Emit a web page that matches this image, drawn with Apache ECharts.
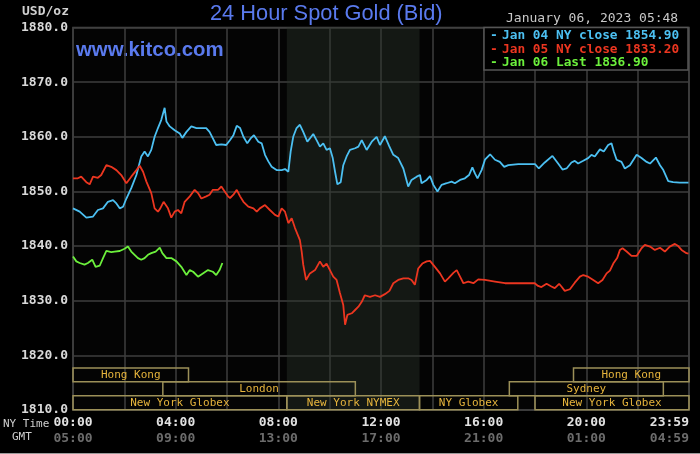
<!DOCTYPE html>
<html style="height: 100%">

<head>
    <meta charset="utf-8">
</head>

<body style="height: 100%; margin: 0; background: #000">
    <div id="container" style="height: 100%"></div>
    <script type="text/javascript" src="https://cdn.jsdelivr.net/npm/echarts@6/dist/echarts.min.js"></script>
    <script type="text/javascript">
        // hours are NY time, prices in USD/oz
        var jan04Hours = [0.00, 0.26, 0.52, 0.78, 0.97, 1.17, 1.36, 1.56, 1.69, 1.82, 1.95, 2.08, 2.27, 2.47, 2.66, 2.79,
            2.92, 3.05, 3.18, 3.31, 3.44, 3.57, 3.64, 3.77, 3.96, 4.16, 4.26, 4.42, 4.61, 4.81, 5.00, 5.19, 5.32, 5.45,
            5.58, 5.78, 5.97, 6.12, 6.25, 6.38, 6.51, 6.64, 6.79, 6.92, 7.05, 7.22, 7.35, 7.48, 7.61, 7.74, 7.93, 8.13,
            8.26, 8.39, 8.48, 8.58, 8.71, 8.84, 8.97, 9.13, 9.23, 9.36, 9.49, 9.62, 9.75, 9.88, 10.01, 10.12, 10.21,
            10.30, 10.43, 10.53, 10.66, 10.79, 10.99, 11.12, 11.25, 11.44, 11.64, 11.83, 11.96, 12.15, 12.32, 12.48,
            12.67, 12.87, 13.06, 13.19, 13.39, 13.52, 13.58, 13.78, 13.91, 14.04, 14.20, 14.36, 14.56, 14.75, 14.88,
            15.08, 15.27, 15.43, 15.56, 15.66, 15.76, 15.92, 16.05, 16.25, 16.44, 16.63, 16.80, 16.96, 17.35, 17.74,
            18.00, 18.15, 18.38, 18.68, 18.90, 19.07, 19.23, 19.42, 19.55, 19.68, 19.88, 20.07, 20.20, 20.33, 20.53,
            20.68, 20.85, 20.98, 21.07, 21.18, 21.37, 21.50, 21.70, 21.96, 22.15, 22.35, 22.48, 22.71, 22.87, 23.00,
            23.19, 23.38, 23.64, 23.98];
        var jan04Prices = [1846.9, 1846.3, 1845.2, 1845.4, 1846.6, 1846.9, 1848.1, 1848.4, 1847.8, 1846.9, 1847.2, 1848.7,
            1850.6, 1853.0, 1856.4, 1857.3, 1856.4, 1857.6, 1860.0, 1861.6, 1863.1, 1865.3, 1862.8, 1861.9, 1861.2,
            1860.6, 1859.8, 1860.9, 1861.9, 1861.6, 1861.6, 1861.6, 1860.9, 1859.7, 1858.5, 1858.6, 1858.5, 1859.4,
            1860.3, 1862.0, 1861.6, 1860.0, 1858.8, 1859.7, 1860.3, 1859.1, 1858.8, 1856.7, 1855.5, 1854.5, 1853.9,
            1853.9, 1854.1, 1853.6, 1857.3, 1860.0, 1861.6, 1862.2, 1860.9, 1859.1, 1859.7, 1860.5, 1859.4, 1858.2,
            1858.8, 1857.6, 1857.9, 1856.1, 1853.6, 1851.3, 1851.7, 1854.8, 1856.4, 1857.6, 1857.9, 1858.2, 1859.4,
            1857.6, 1859.1, 1860.0, 1858.5, 1860.1, 1858.3, 1856.7, 1856.1, 1854.2, 1850.9, 1852.1, 1852.7, 1853.0,
            1851.5, 1852.1, 1852.8, 1851.2, 1850.0, 1851.2, 1851.5, 1851.8, 1851.5, 1852.1, 1852.4, 1853.0, 1854.4,
            1853.3, 1852.4, 1853.9, 1855.8, 1856.8, 1855.8, 1855.4, 1854.5, 1854.8, 1855.0, 1855.0, 1855.0, 1854.2,
            1855.3, 1856.5, 1855.1, 1854.0, 1854.2, 1855.3, 1855.6, 1855.1, 1855.6, 1856.1, 1856.7, 1856.4, 1857.7,
            1857.3, 1858.5, 1858.8, 1857.3, 1855.8, 1855.4, 1854.2, 1854.8, 1856.7, 1856.1, 1855.4, 1855.1, 1856.2,
            1854.8, 1853.9, 1851.9, 1851.7, 1851.6, 1851.6];

        var jan05Hours = [0.00, 0.19, 0.32, 0.52, 0.65, 0.78, 0.97, 1.10, 1.30, 1.49, 1.69, 1.88, 2.08, 2.27, 2.47, 2.60,
            2.73, 2.86, 3.05, 3.18, 3.31, 3.40, 3.53, 3.70, 3.83, 3.96, 4.09, 4.22, 4.35, 4.55, 4.74, 4.87, 5.00, 5.19,
            5.32, 5.45, 5.65, 5.78, 5.91, 6.04, 6.12, 6.25, 6.38, 6.51, 6.64, 6.83, 7.03, 7.16, 7.28, 7.48, 7.67, 7.87,
            8.00, 8.13, 8.26, 8.39, 8.52, 8.65, 8.84, 8.91, 8.97, 9.08, 9.23, 9.43, 9.62, 9.75, 9.88, 10.01, 10.14,
            10.27, 10.40, 10.53, 10.60, 10.69, 10.86, 10.99, 11.12, 11.25, 11.37, 11.57, 11.77, 11.96, 12.15, 12.33,
            12.48, 12.67, 12.87, 13.06, 13.19, 13.32, 13.45, 13.61, 13.78, 13.91, 14.10, 14.30, 14.49, 14.62, 14.82,
            14.95, 15.08, 15.21, 15.40, 15.60, 15.79, 16.05, 16.44, 16.83, 17.35, 17.99, 18.12, 18.25, 18.45, 18.64,
            18.77, 18.94, 19.03, 19.16, 19.36, 19.55, 19.75, 19.88, 20.07, 20.27, 20.46, 20.63, 20.79, 20.92, 21.05,
            21.20, 21.31, 21.41, 21.57, 21.76, 21.96, 22.15, 22.28, 22.48, 22.67, 22.87, 23.06, 23.25, 23.45, 23.58,
            23.71, 23.90, 23.98];
        var jan05Prices = [1852.4, 1852.4, 1852.7, 1851.7, 1851.3, 1852.7, 1852.5, 1853.0, 1854.8, 1854.5, 1853.9, 1853.0,
            1851.5, 1852.7, 1853.9, 1854.7, 1853.6, 1851.8, 1849.7, 1846.9, 1846.3, 1846.9, 1848.1, 1846.9, 1845.2,
            1846.3, 1846.6, 1846.0, 1848.1, 1849.1, 1850.3, 1849.7, 1848.7, 1849.1, 1849.4, 1850.3, 1850.3, 1850.9,
            1850.0, 1849.1, 1848.8, 1849.4, 1850.3, 1849.1, 1848.1, 1847.2, 1846.9, 1846.3, 1846.9, 1847.5, 1846.6,
            1845.7, 1845.4, 1846.9, 1846.3, 1844.2, 1845.1, 1843.3, 1841.1, 1839.0, 1836.6, 1833.8, 1835.0, 1835.6,
            1837.2, 1836.2, 1836.8, 1835.6, 1834.4, 1833.8, 1831.4, 1829.2, 1825.6, 1827.4, 1827.7, 1828.3, 1828.9,
            1829.8, 1831.0, 1830.7, 1831.0, 1830.7, 1831.2, 1831.8, 1833.2, 1833.8, 1834.1, 1834.1, 1833.8, 1832.9,
            1835.9, 1836.8, 1837.2, 1837.3, 1836.2, 1835.0, 1833.5, 1834.1, 1835.1, 1835.6, 1834.4, 1833.2, 1833.5,
            1833.2, 1833.9, 1833.8, 1833.5, 1833.2, 1833.2, 1833.2, 1832.7, 1832.5, 1833.1, 1832.6, 1832.3, 1833.1,
            1832.6, 1831.8, 1832.1, 1833.3, 1834.4, 1834.7, 1834.4, 1833.8, 1833.2, 1833.8, 1835.0, 1835.5, 1836.8,
            1837.8, 1839.3, 1839.6, 1839.0, 1838.2, 1838.2, 1839.6, 1840.2, 1839.9, 1839.3, 1839.7, 1839.0, 1839.9,
            1840.4, 1840.0, 1839.3, 1838.7, 1838.6];

        var jan06Hours = [0.00, 0.13, 0.26, 0.45, 0.58, 0.75, 0.88, 1.04, 1.17, 1.30, 1.49, 1.62, 1.82, 2.01, 2.14, 2.27,
            2.40, 2.53, 2.66, 2.79, 2.92, 3.05, 3.22, 3.38, 3.48, 3.64, 3.83, 4.03, 4.22, 4.42, 4.55, 4.68, 4.87, 5.06,
            5.26, 5.45, 5.58, 5.71, 5.82];
        var jan06Prices = [1838.1, 1837.2, 1836.9, 1836.6, 1836.9, 1837.5, 1836.2, 1836.4, 1837.8, 1839.1, 1838.9, 1839.0,
            1839.1, 1839.5, 1839.9, 1839.0, 1838.4, 1837.8, 1837.5, 1837.8, 1838.4, 1838.7, 1839.0, 1839.7, 1838.7,
            1837.8, 1837.8, 1837.2, 1836.2, 1834.7, 1835.6, 1835.3, 1834.4, 1835.0, 1835.6, 1835.3, 1834.7, 1835.6,
            1836.9];

        var legendLabels = ['Jan 04 NY close 1854.90', 'Jan 05 NY close 1833.20', 'Jan 06 Last 1836.90'];
        var dateLabel = 'January 06, 2023 05:48';

        var sessionNames = ['Hong Kong', 'London', 'New York Globex', 'New York NYMEX', 'NY Globex', 'New York Globex', 'Sydney', 'Hong Kong'];
        var sessionStart = [0, 3.5, 0, 8.33, 13.5, 18, 17, 19.5];
        var sessionEnd = [4.5, 11, 8.33, 13.5, 17.33, 24, 23, 24];
        var sessionRow = [0, 1, 2, 2, 2, 2, 1, 0];
        var nymexHours = [8.33, 13.5];

        var colors = ['#4cc0f2', '#ec3620', '#6cf03c'];
        var mono = '"DejaVu Sans Mono", monospace';
        var rowTop = [1817.7, 1815.15, 1812.6];
        var rowHeight = 2.55;

        function pairs(hours, prices) {
            return hours.map(function (h, i) { return [h, prices[i]]; });
        }
        function pad(n) { return (n < 10 ? '0' : '') + n; }

        var dom = document.getElementById("container");
        var myChart = echarts.init(dom);

        var graphics = [
            { type: 'text', left: 210, top: 3, style: { text: '24 Hour Spot Gold (Bid)', fill: '#5a7aee', font: '21.8px "Liberation Sans", Arial, sans-serif' } },
            { type: 'text', left: 76, top: 40, style: { text: 'www.kitco.com', fill: '#5a7aee', font: 'bold 20.4px "Liberation Sans", Arial, sans-serif' } },
            { type: 'text', left: 22, top: 5, style: { text: 'USD/oz', fill: '#d0d0d0', font: 'bold 13px ' + mono } },
            { type: 'text', left: 506, top: 12, style: { text: dateLabel, fill: '#c8c8c8', font: '13px ' + mono } },
            { type: 'text', left: 3, top: 419, style: { text: 'NY Time', fill: '#cfcfcf', font: '11px ' + mono } },
            { type: 'text', left: 12, top: 432, style: { text: 'GMT', fill: '#cfcfcf', font: '11px ' + mono } },
            { type: 'rect', shape: { x: 484, y: 27.5, width: 204, height: 42.5 }, style: { fill: '#000', stroke: '#555', lineWidth: 1.5 }, z: 100 },
            { type: 'line', shape: { x1: 0, y1: 453.5, x2: 700, y2: 453.5 }, style: { stroke: '#9a9a9a', lineWidth: 1 } }
        ];
        legendLabels.forEach(function (t, i) {
            var y = 29 + i * 13.8;
            graphics.push({ type: 'text', left: 490, top: y, z: 101, style: { text: '-', fill: colors[i], font: 'bold 13px ' + mono } });
            graphics.push({ type: 'text', left: 502, top: y, z: 101, style: { text: t, fill: colors[i], font: 'bold 12.8px ' + mono } });
        });

        var lineSeries = [pairs(jan04Hours, jan04Prices), pairs(jan05Hours, jan05Prices), pairs(jan06Hours, jan06Prices)].map(function (d, i) {
            return {
                type: 'line',
                data: d,
                showSymbol: false,
                silent: true,
                z: 5,
                lineStyle: { color: colors[i], width: 1.8 }
            };
        });
        lineSeries[1].markArea = {
            silent: true,
            itemStyle: { color: 'rgba(44,52,44,0.42)' },
            data: [[{ xAxis: nymexHours[0] }, { xAxis: nymexHours[1] }]]
        };

        var option = {
            backgroundColor: '#000',
            animation: false,
            grid: {
                left: 73, right: 11, top: 27.5, bottom: 44,
                show: true, backgroundColor: '#040404', borderColor: '#4a4a4a', borderWidth: 1.5
            },
            xAxis: {
                type: 'value', min: 0, max: 24, interval: 2,
                axisLine: { show: false }, axisTick: { show: false },
                splitLine: { show: true, lineStyle: { color: '#3e3e3e', width: 1.5 } },
                axisLabel: {
                    margin: 5,
                    alignMaxLabel: 'right',
                    formatter: function (v) {
                        if (v === 24) return '{a|23:59}\n{b|04:59}';
                        if (v % 4 !== 0) return '';
                        return '{a|' + pad(v) + ':00}\n{b|' + pad((v + 5) % 24) + ':00}';
                    },
                    rich: {
                        a: { color: '#e2e2e2', fontFamily: mono, fontWeight: 'bold', fontSize: 13, lineHeight: 16 },
                        b: { color: '#6c6c6c', fontFamily: mono, fontWeight: 'bold', fontSize: 13, lineHeight: 16 }
                    }
                }
            },
            yAxis: {
                type: 'value', min: 1810, max: 1880, interval: 10,
                axisLine: { show: false }, axisTick: { show: false },
                splitLine: { show: true, lineStyle: { color: '#3e3e3e', width: 1.5 } },
                axisLabel: {
                    margin: 5,
                    color: '#d8d8d8', fontFamily: mono, fontWeight: 'bold', fontSize: 13,
                    formatter: function (v) { return v.toFixed(1); }
                }
            },
            graphic: graphics,
            series: lineSeries.concat([{
                type: 'custom',
                silent: true,
                z: 3,
                encode: { x: [0, 1], y: 2 },
                data: sessionStart.map(function (s, i) { return [s, sessionEnd[i], sessionRow[i]]; }),
                renderItem: function (params, api) {
                    var row = api.value(2);
                    var p1 = api.coord([api.value(0), rowTop[row]]);
                    var p2 = api.coord([api.value(1), rowTop[row] - rowHeight]);
                    return {
                        type: 'rect',
                        shape: { x: p1[0], y: p1[1], width: p2[0] - p1[0], height: p2[1] - p1[1] },
                        style: { fill: 'rgba(0,0,0,0)', stroke: '#9c9058', lineWidth: 1.5 },
                        textContent: {
                            style: { text: sessionNames[params.dataIndex], fill: '#e6b43c', font: '11px ' + mono }
                        },
                        textConfig: { position: 'inside' }
                    };
                }
            }])
        };

        myChart.setOption(option);
    </script>
</body>

</html>
